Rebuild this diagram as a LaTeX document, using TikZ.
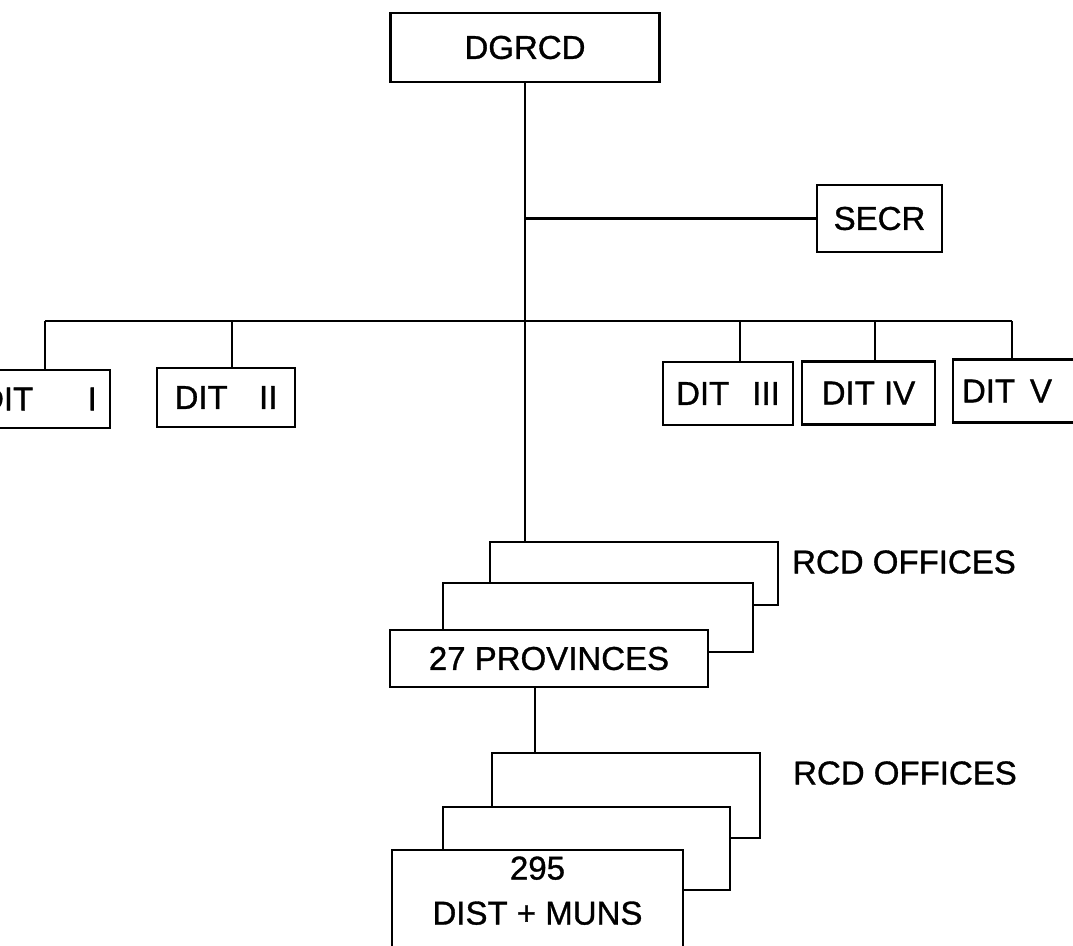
\documentclass[tikz,border=0pt]{standalone}
\usepackage{fontspec}
\setmainfont{Liberation Sans}[FakeBold=1]

\begin{document}
\begin{tikzpicture}[x=1pt, y=-1pt, line width=2.6pt,
	unit/.style={draw, fill=white, inner sep=0pt, align=center, font=\fontsize{33}{45}\selectfont},
	tag/.style={inner sep=0pt, font=\fontsize{33}{45}\selectfont}]
	\fill[white] (0,0) rectangle (1073,945);
	\useasboundingbox (0,0) rectangle (1073,945);
	\clip (0,0) rectangle (1073,945);
	\node[unit] (dgrcd) [minimum width=269pt, minimum height=69pt] at (525,47.5) {DGRCD};
	\node[unit] (secr) [minimum width=125pt, minimum height=67pt] at (879.5,218.5) {SECR};
	\node[unit] (dit1) [minimum width=143pt, minimum height=58pt] at (38.5,399) {DIT\hspace{1.65em}I};
	\node[unit] (dit2) [minimum width=138pt, minimum height=59pt] at (226,397.5) {DIT\hspace{0.95em}II};
	\node[unit] (dit3) [minimum width=130pt, minimum height=63pt] at (728,393.5) {DIT\hspace{0.7em}III};
	\node[unit] (dit4) [minimum width=133pt, minimum height=63pt] at (868.5,393) {DIT IV};
	\node[unit] (dit5) [text width=120pt, align=left, inner xsep=9pt, minimum height=63pt] at (1022,391) {DIT\hspace{0.45em}V};
	% provinces
	\node[unit] (pback) [minimum width=288pt, minimum height=63pt] at (634,573.5) {};
	\node[unit] (pmid) [minimum width=310pt, minimum height=69pt] at (598,617.5) {};
	\node[unit] (prov) [minimum width=318pt, minimum height=57pt] at (549,658.5) {27 PROVINCES};
	\node[tag] (rcd1) at (904,562) {RCD OFFICES};
	% districts
	\node[unit] (dback) [minimum width=268pt, minimum height=85pt] at (626,795.5) {};
	\node[unit] (dmid) [minimum width=287pt, minimum height=83pt] at (586.5,848.5) {};
	\node[unit] (dist) [minimum width=291pt, minimum height=100pt] at (537.5,900) {295\\DIST + MUNS\rule[-19pt]{0pt}{1pt}};
	\node[tag] (rcd2) at (905,773) {RCD OFFICES};
	\coordinate (b1) at (45,321);
	\coordinate (b2) at (232,321);
	\coordinate (b3) at (740,321);
	\coordinate (b4) at (875,321);
	\coordinate (b5) at (1012,321);
	\path (dgrcd.south) edge (dgrcd.south |- pback.north);
	\path (dgrcd.south |- secr.west) edge (secr.west);
	\path (b1) edge (b5);
	\path (b1) edge (b1 |- dit1.north);
	\path (b2) edge (b2 |- dit2.north);
	\path (b3) edge (b3 |- dit3.north);
	\path (b4) edge (b4 |- dit4.north);
	\path (b5) edge (b5 |- dit5.north);
	\path ([xshift=-14pt]prov.south) edge ([xshift=-14pt]prov.south |- dback.north);
\end{tikzpicture}
\end{document}
